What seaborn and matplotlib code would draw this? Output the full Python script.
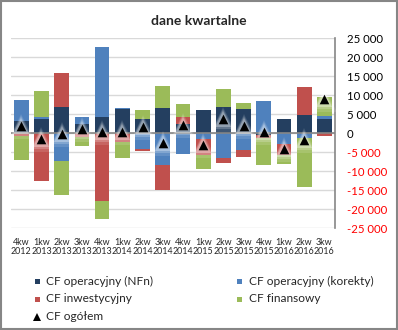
import numpy as np
import matplotlib
matplotlib.use("Agg")
import matplotlib.pyplot as plt
from matplotlib.patches import Rectangle
from matplotlib.lines import Line2D
import seaborn as sns

# Quarterly cash flow components (PLN thousand)
quarters = ["4kw\n2012", "1kw\n2013", "2kw\n2013", "3kw\n2013", "4kw\n2013",
            "1kw\n2014", "2kw\n2014", "3kw\n2014", "4kw\n2014", "1kw\n2015",
            "2kw\n2015", "3kw\n2015", "4kw\n2015", "1kw\n2016", "2kw\n2016",
            "3kw\n2016"]
cf_nfn = [3250, 3860, 6930, 2460, 4300, 6490, 3770, 6670, 2460, 6140,
          6930, 6400, -500, 3770, 4820, 3770]
cf_korekty = [5530, 440, -7280, 1840, 18420, 180, -4210, -8330, -5350, -1490,
              -6400, -4300, 8510, -2810, -1320, 790]
cf_inwest = [-600, -12540, 8950, -880, -17810, -2190, -350, -6580, 1840, -4210,
             -1320, -1840, -700, -2890, 7370, -610]
cf_finans = [-6300, 6840, -8860, -2370, -4650, -4210, 2370, 5790, 3420, -3600,
             4740, 1580, -7020, -2280, -12720, 5000]
cf_ogolem = [1880, -1400, -260, 1100, 260, 270, 1600, -2450, 2300, -3120,
             3850, 1800, 300, -4210, -1820, 9050]

series = [
    ("CF operacyjny (NFn)", cf_nfn, "#243F60"),
    ("CF operacyjny (korekty)", cf_korekty, "#4F81BD"),
    ("CF inwestycyjny", cf_inwest, "#C0504D"),
    ("CF finansowy", cf_finans, "#9BBB59"),
]
total_label = "CF ogółem"

yticks = [25000, 20000, 15000, 10000, 5000, 0, -5000, -10000, -15000, -20000, -25000]

sns.set_theme(style="white")
plt.rcParams["font.family"] = ["Lato", "DejaVu Sans"]

fig = plt.figure(figsize=(3.98, 3.30), dpi=100)
ax = fig.add_axes([0.0281, 0.3082, 0.8124, 0.5758])

x = np.arange(len(quarters))
pos_base = np.zeros(len(quarters))
neg_base = np.zeros(len(quarters))
for name, vals, color in series:
    v = np.asarray(vals, dtype=float)
    bottom = np.where(v >= 0, pos_base, neg_base)
    ax.bar(x, v, bottom=bottom, width=0.73, color=color, linewidth=0, zorder=2)
    pos_base = pos_base + np.where(v >= 0, v, 0)
    neg_base = neg_base + np.where(v < 0, v, 0)

ax.axhline(0, color="#868686", lw=1.2, zorder=3)

# soft light halo behind the total markers
for ms, a in [(18, 0.12), (15, 0.2), (12, 0.3)]:
    ax.plot(x, cf_ogolem, linestyle="none", marker="^", ms=ms, color="white",
            alpha=a, mew=0, zorder=4)
sns.scatterplot(x=x, y=cf_ogolem, marker="^", s=48, color="black",
                linewidth=0, ax=ax, zorder=5, legend=False)

ax.set_xlim(-0.5, len(quarters) - 0.5)
ax.set_ylim(-25000, 25000)
ax.set_yticks(yticks)
ax.yaxis.tick_right()
ax.tick_params(axis="y", length=0, pad=9, labelsize=8.2)
for lab, t in zip(ax.set_yticklabels([f"{t:,}".replace(",", " ") for t in yticks]), yticks):
    lab.set_horizontalalignment("left")
    lab.set_color("red" if t < 0 else "black")
ax.set_xticks(x)
ax.set_xticklabels(quarters, fontsize=6.4, linespacing=1.05)
ax.tick_params(axis="x", length=0, pad=7)

ax.grid(axis="y", color="#D9D9D9", lw=1, zorder=0)
ax.set_axisbelow(True)
for s in ["left", "top", "bottom"]:
    ax.spines[s].set_visible(False)
ax.spines["right"].set_color("#868686")
ax.spines["right"].set_linewidth(1.2)

fig.text(199 / 398, 1 - 21 / 330, "dane kwartalne", ha="center", va="center",
         fontsize=10, fontweight="bold")

# legend laid out in two columns below the chart
W, H = 398, 330
legend_items = [
    (series[0][0], series[0][2], 37, 281.7),
    (series[1][0], series[1][2], 239.5, 281.7),
    (series[2][0], series[2][2], 37, 299),
    (series[3][0], series[3][2], 239.5, 299),
]
for name, color, mx, my in legend_items:
    fig.add_artist(Rectangle(((mx - 2.5) / W, 1 - (my + 2.5) / H), 5 / W, 5 / H,
                             transform=fig.transFigure, color=color, lw=0))
    fig.text((mx + 9.5) / W, 1 - my / H, name, ha="left", va="center", fontsize=8.6)
fig.add_artist(Line2D([37 / W], [1 - 316.7 / H], marker="^", ms=5.5, color="black",
                      mew=0, linestyle="none", transform=fig.transFigure))
fig.text((37 + 9.5) / W, 1 - 316.7 / H, total_label, ha="left", va="center", fontsize=8.6)

fig.add_artist(Rectangle((0.002, 0.003), 0.995, 0.994, transform=fig.transFigure,
                         fill=False, edgecolor="#868686", lw=1.5))

fig.savefig("out.png", dpi=100)
